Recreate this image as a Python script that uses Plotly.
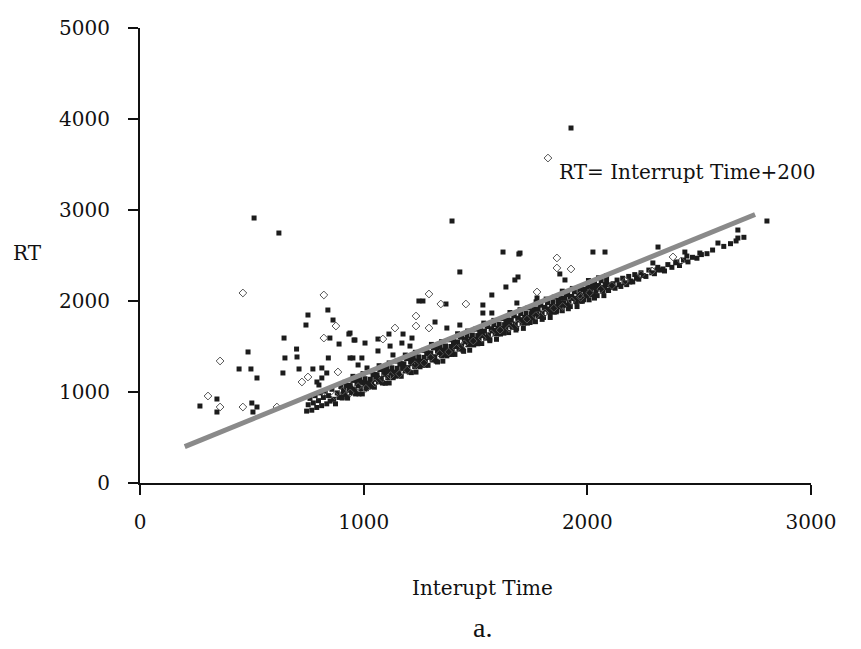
import plotly.graph_objects as go

# Dense band of trials just under the reference line (filled squares)
band_sq_x = [745, 752, 760, 768, 775, 783, 790, 798, 806, 812, 820, 828, 835, 843, 850, 858, 866, 874, 882, 890, 898,
             904, 910, 916, 922, 928, 934, 940, 946, 952, 958, 964, 970, 976, 982, 988, 994, 1000, 1006, 1012, 1018,
             1024, 1030, 1036, 1042, 1048, 1054, 1060, 1066, 1072, 1078, 1084, 1090, 1096, 1102, 1108, 1114, 1120, 1126, 1132, 1138,
             1144, 1150, 1156, 1162, 1168, 1174, 1180, 1186, 1192, 1198, 1204, 1210, 1216, 1222, 1228, 1234, 1240, 1246, 1252, 1258,
             1264, 1270, 1276, 1282, 1288, 1294, 1300, 1306, 1312, 1318, 1324, 1330, 1336, 1342, 1348, 1354, 1360, 1366, 1372, 1378,
             1384, 1390, 1396, 1402, 1408, 1414, 1420, 1426, 1432, 1438, 1444, 1450, 1456, 1462, 1468, 1474, 1480, 1486, 1492, 1498,
             1504, 1510, 1516, 1522, 1528, 1534, 1540, 1546, 1552, 1558, 1564, 1570, 1576, 1582, 1588, 1594, 1600, 1606, 1612, 1618,
             1624, 1630, 1636, 1642, 1648, 1654, 1660, 1666, 1672, 1678, 1684, 1690, 1696, 1702, 1708, 1714, 1720, 1726, 1732, 1738,
             1744, 1750, 1756, 1762, 1768, 1774, 1780, 1786, 1792, 1798, 1804, 1810, 1816, 1822, 1828, 1834, 1840, 1846, 1852, 1858,
             1864, 1870, 1876, 1882, 1888, 1894, 1900, 1906, 1912, 1918, 1924, 1930, 1936, 1942, 1948, 1954, 1960, 1966, 1972, 1978,
             1984, 1990, 1996, 2002, 2008, 2014, 2020, 2026, 2032, 2038, 2044, 2050, 2056, 2062, 2068, 2074, 2080, 2086, 2092, 2098,
             2106, 2115, 2124, 2133, 2142, 2150, 2158, 2167, 2176, 2185, 2194, 2203, 2212, 2220, 2230, 2240, 2250, 2262, 2275, 2288,
             2300, 2315, 2330, 2345, 2360, 2378, 2395, 2412, 2430, 2450, 2470, 2490, 2510]
band_sq_y = [790, 860, 930, 800, 880, 960, 830, 905, 990, 850, 940, 1010, 870, 960, 900, 1030, 920, 870, 990, 940, 1060,
             934, 1020, 976, 1072, 933, 1019, 1070, 991, 1127, 1028, 979, 1090, 1071, 1142, 1038, 979, 1100, 1146, 1037, 1098,
             1054, 1140, 1096, 1192, 1053, 1139, 1190, 1111, 1247, 1148, 1099, 1210, 1191, 1262, 1158, 1099, 1220, 1266, 1157, 1218,
             1174, 1260, 1216, 1312, 1173, 1259, 1310, 1231, 1367, 1268, 1219, 1330, 1311, 1382, 1278, 1219, 1340, 1386, 1277, 1338,
             1294, 1380, 1336, 1432, 1293, 1379, 1430, 1351, 1487, 1388, 1339, 1450, 1431, 1502, 1398, 1339, 1460, 1506, 1397, 1458,
             1414, 1500, 1456, 1552, 1413, 1499, 1550, 1471, 1607, 1508, 1459, 1570, 1551, 1622, 1518, 1459, 1580, 1626, 1517, 1578,
             1534, 1620, 1576, 1672, 1533, 1619, 1670, 1591, 1727, 1628, 1579, 1690, 1671, 1742, 1638, 1579, 1700, 1746, 1637, 1698,
             1654, 1740, 1696, 1792, 1653, 1739, 1790, 1711, 1847, 1748, 1699, 1810, 1791, 1862, 1758, 1699, 1820, 1866, 1757, 1818,
             1774, 1860, 1816, 1912, 1773, 1859, 1910, 1831, 1967, 1868, 1819, 1930, 1911, 1982, 1878, 1819, 1940, 1986, 1877, 1938,
             1894, 1980, 1936, 2032, 1893, 1979, 2030, 1951, 2087, 1988, 1939, 2050, 2031, 2102, 1998, 1939, 2060, 2106, 1997, 2058,
             2014, 2100, 2056, 2152, 2013, 2099, 2150, 2071, 2207, 2108, 2059, 2170, 2151, 2222, 2118, 2059, 2180, 2226, 2117, 2178,
             2150, 2190, 2140, 2230, 2180, 2160, 2250, 2200, 2180, 2270, 2220, 2210, 2290, 2250, 2240, 2310, 2280, 2270, 2340, 2310,
             2300, 2370, 2340, 2330, 2400, 2370, 2420, 2390, 2450, 2430, 2480, 2470, 2510]

# More trials in the same band, reaching up to the reference line
band2_x = [907, 916, 925, 934, 943, 952, 961, 970, 979, 988, 997, 1006, 1015, 1024, 1033, 1042, 1051, 1060, 1069, 1078,
           1087, 1096, 1105, 1114, 1123, 1132, 1141, 1150, 1159, 1168, 1177, 1186, 1195, 1204, 1213, 1222, 1231, 1240, 1249, 1258,
           1267, 1276, 1285, 1294, 1303, 1312, 1321, 1330, 1339, 1348, 1357, 1366, 1375, 1384, 1393, 1402, 1411, 1420, 1429, 1438,
           1447, 1456, 1465, 1474, 1483, 1492, 1501, 1510, 1519, 1528, 1537, 1546, 1555, 1564, 1573, 1582, 1591, 1600, 1609, 1618,
           1627, 1636, 1645, 1654, 1663, 1672, 1681, 1690, 1699, 1708, 1717, 1726, 1735, 1744, 1753, 1762, 1771, 1780, 1789, 1798,
           1807, 1816, 1825, 1834, 1843, 1852, 1861, 1870, 1879, 1888, 1897, 1906, 1915, 1924, 1933, 1942, 1951, 1960, 1969, 1978,
           1987, 1996, 2005, 2014, 2023, 2032, 2041, 2050, 2059, 2068, 2077, 2086, 2095]
band2_y = [977, 1106, 945, 1074, 1043, 1172, 1016, 1135, 979, 1108, 1202, 1091, 1055, 1094, 1223, 1062, 1191, 1160, 1289, 1133,
           1252, 1096, 1225, 1319, 1208, 1172, 1211, 1340, 1179, 1308, 1277, 1406, 1250, 1369, 1213, 1342, 1436, 1325, 1289, 1328,
           1457, 1296, 1425, 1394, 1523, 1367, 1486, 1330, 1459, 1553, 1442, 1406, 1445, 1574, 1413, 1542, 1511, 1640, 1484, 1603,
           1447, 1576, 1670, 1559, 1523, 1562, 1691, 1530, 1659, 1628, 1757, 1601, 1720, 1564, 1693, 1787, 1676, 1640, 1679, 1808,
           1647, 1776, 1745, 1874, 1718, 1837, 1681, 1810, 1904, 1793, 1757, 1796, 1925, 1764, 1893, 1862, 1991, 1835, 1954, 1798,
           1927, 2021, 1910, 1874, 1913, 2042, 1881, 2010, 1979, 2108, 1952, 2071, 1915, 2044, 2138, 2027, 1991, 2030, 2159, 1998,
           2127, 2096, 2225, 2069, 2188, 2032, 2161, 2255, 2144, 2108, 2147, 2276, 2115]

# Slower trials scattered above the band (filled squares)
out_sq_x = [1927, 1395, 1623, 1694, 2025, 2079, 510, 621, 751, 742, 840, 863, 644, 849, 939, 957, 890, 483, 700, 702,
            648, 842, 939, 443, 496, 523, 639, 711, 773, 813, 835, 813, 800, 791, 344, 268, 344, 500, 523, 505,
            1430, 1247, 1265, 1368, 1573, 1636, 1676, 1533, 1533, 1573, 1319, 1372, 1430, 1113, 1176, 1064, 1216, 961, 1006, 1118,
            1171, 1207, 1064, 934, 1131, 952, 992, 975, 1015, 1699, 1877, 1900, 1690, 1775, 1685, 2316, 2293, 2311, 2338, 2222,
            2190, 2020, 2043, 2803, 2673, 2673, 2584, 2503, 2445, 2400, 2436, 2535, 2560, 2610, 2640, 2665, 2700]
out_sq_y = [3901, 2879, 2538, 2516, 2538, 2538, 2912, 2747, 1846, 1736, 1901, 1791, 1593, 1593, 1648, 1571, 1527, 1440, 1472, 1385,
            1374, 1374, 1374, 1253, 1253, 1154, 1209, 1253, 1253, 1264, 1209, 1154, 1077, 1110, 923, 846, 780, 879, 835, 780,
            2319, 2000, 2000, 1967, 2066, 2154, 2231, 1956, 1868, 1868, 1769, 1703, 1736, 1637, 1637, 1582, 1593, 1571, 1538, 1505,
            1538, 1505, 1451, 1637, 1407, 1374, 1374, 1297, 1264, 2527, 2297, 2231, 2264, 2033, 1978, 2593, 2418, 2341, 2352, 2264,
            2209, 2154, 2132, 2879, 2780, 2692, 2637, 2527, 2494, 2429, 2538, 2520, 2560, 2600, 2630, 2660, 2700]

# Second condition (open diamonds)
dia_x = [820, 870, 905, 940, 975, 1010, 1050, 1085, 1120, 1160, 1195, 1230, 1270, 1300, 1340, 1380, 1415, 1450, 1490, 1530,
         1570, 1610, 1650, 1690, 1730, 1770, 1810, 1850, 1890, 1930, 1970, 2010, 2060, 2110, 2170, 2240, 2290, 2420,
         1824, 1864, 460, 822, 876, 822, 358, 724, 885, 751, 304, 358, 460, 612, 1292, 1345, 1457, 1234, 1234, 1292,
         1140, 1086, 1864, 1927, 1775, 2383, 2289, 1967]
dia_y = [1000, 960, 1010, 990, 1060, 1040, 1100, 1150, 1180, 1200, 1240, 1300, 1320, 1380, 1420, 1440, 1480, 1530, 1560, 1590,
         1640, 1680, 1700, 1750, 1800, 1840, 1870, 1920, 1940, 2000, 2040, 2090, 2130, 2170, 2220, 2290, 2330, 2440,
         3571, 2473, 2088, 2066, 1725, 1593, 1341, 1110, 1220, 1165, 956, 835, 835, 835, 2077, 1967, 1967, 1835, 1725, 1703,
         1703, 1582, 2363, 2352, 2099, 2484, 2330, 2066]

# Reference line RT = Interrupt Time + 200
line_x = [200, 2750]
line_y = [400, 2950]

x_ticks = [0, 1000, 2000, 3000]
y_ticks = [0, 1000, 2000, 3000, 4000, 5000]

FONT = "DejaVu Serif"

fig = go.Figure()
fig.add_trace(go.Scatter(x=band_sq_x + band2_x + out_sq_x, y=band_sq_y + band2_y + out_sq_y, mode="markers",
                         marker=dict(symbol="square", size=5, color="#1c1c1c", line=dict(width=0)),
                         showlegend=False, hoverinfo="skip"))
fig.add_trace(go.Scatter(x=dia_x, y=dia_y, mode="markers",
                         marker=dict(symbol="diamond-open", size=6, color="#555555", line=dict(width=1)),
                         showlegend=False, hoverinfo="skip"))
fig.add_trace(go.Scatter(x=line_x, y=line_y, mode="lines",
                         line=dict(color="#8a8a8a", width=5),
                         showlegend=False, hoverinfo="skip"))

fig.update_layout(
    width=861, height=649,
    margin=dict(l=140, r=50, t=28, b=166),
    paper_bgcolor="white", plot_bgcolor="white",
    font=dict(family=FONT, size=20, color="#111111"),
    xaxis=dict(range=[0, 3000], tickvals=x_ticks, showgrid=False, zeroline=False,
               showline=True, linecolor="#111111", linewidth=2,
               ticks="outside", ticklen=10, tickwidth=2, tickcolor="#111111",
               ticklabelstandoff=10, fixedrange=True),
    yaxis=dict(range=[0, 5000], tickvals=y_ticks, showgrid=False, zeroline=False,
               showline=True, linecolor="#111111", linewidth=2,
               ticks="outside", ticklen=10, tickwidth=2, tickcolor="#111111",
               ticklabelstandoff=14, fixedrange=True),
    annotations=[
        dict(text="RT= Interrupt Time+200", x=557, y=172, showarrow=False, xanchor="left", yanchor="middle",
             font=dict(size=20)),
        dict(text="RT", x=28, y=253, showarrow=False, xanchor="center", yanchor="middle", font=dict(size=20)),
        dict(text="Interupt Time", x=482, y=588, showarrow=False, xanchor="center", yanchor="middle",
             font=dict(size=20)),
        dict(text="a.", x=482, y=627, showarrow=False, xanchor="center", yanchor="middle",
             font=dict(family="Liberation Serif", size=28)),
    ],
)

# Place the text annotations by pixel position on the 861x649 page
W, H = 861, 649
L, R, T, B = 140, 50, 28, 166
pw, ph = W - L - R, H - T - B
new_ann = []
for a in fig.layout.annotations:
    px, py = a.x, a.y
    a.xref, a.yref = "paper", "paper"
    a.x = (px - L) / pw
    a.y = (H - B - py) / ph
    new_ann.append(a)
fig.layout.annotations = new_ann

fig.write_html("out.html")
